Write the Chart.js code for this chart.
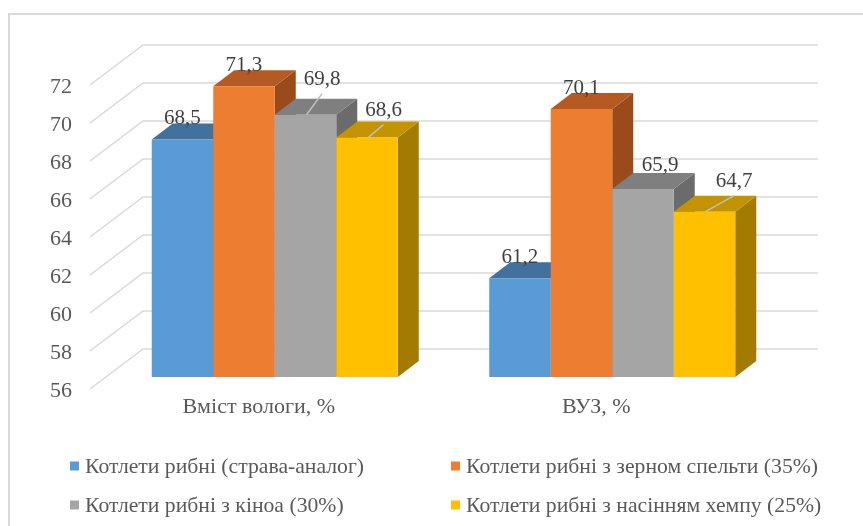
<!DOCTYPE html>
<html lang="uk">
<head>
<meta charset="utf-8" />
<title>Котлети рибні</title>
<script src="https://cdn.jsdelivr.net/npm/chart.js@4.4.1/dist/chart.umd.min.js"></script>
<style>
  html, body { margin: 0; padding: 0; background: #fff; }
  #wrap { width: 863px; height: 526px; }
</style>
</head>
<body>
<div id="wrap"><canvas id="chart" width="863" height="526"></canvas></div>
<script>
// --- data ---
const categories = ['Вміст вологи, %', 'ВУЗ, %'];
const seriesNames = [
  'Котлети рибні (страва-аналог)',
  'Котлети рибні з зерном спельти (35%)',
  'Котлети рибні з кіноа (30%)',
  'Котлети рибні з насінням хемпу (25%)'
];
const analogValues = [68.5, 61.2];
const speltValues = [71.3, 70.1];
const quinoaValues = [69.8, 65.9];
const hempValues = [68.6, 64.7];
const yTicks = [56, 58, 60, 62, 64, 66, 68, 70, 72];

// colours: front, top, side
const palette = [
  { front: '#5b9bd5', top: '#41719c', side: '#3a6690' },
  { front: '#ed7d31', top: '#b55a22', side: '#9a4b1b' },
  { front: '#a5a5a5', top: '#7f7f7f', side: '#6b6b6b' },
  { front: '#ffc000', top: '#c39300', side: '#a37b00' }
];

// 3d geometry (px): floor front edge, back wall, bar depth
const FRONT = { x: -16, y: 12 };
const BACK = { x: 37, y: -28 };
const DEPTH = { x: 21, y: -16 };
const FONT = '22px "Liberation Serif", "Times New Roman", serif';
const LABEL_FONT = '21px "Liberation Serif", "Times New Roman", serif';
const LEGEND_FONT = '21.7px "Liberation Serif", "Times New Roman", serif';

// data label nudges and leader lines, per series per category
const labelNudge = [
  [[0, -21], [0, -21]],
  [[0, -21], [0, -21]],
  [[16.5, -35], [17, -23]],
  [[16.5, -27], [29.5, -30]]
];
const leaders = [[2, 0], [3, 0], [3, 1]];

const plot3d = {
  id: 'plot3d',
  beforeDraw(chart) {
    const ctx = chart.ctx;
    ctx.save();
    ctx.fillStyle = '#fff';
    ctx.fillRect(0, 0, chart.width, chart.height);
    ctx.strokeStyle = '#d9d9d9';
    ctx.lineWidth = 2;
    ctx.strokeRect(9, 14, chart.width + 20, chart.height + 20);
    ctx.restore();
  },
  beforeDatasetsDraw(chart) {
    const ctx = chart.ctx;
    const a = chart.chartArea;
    const y = chart.scales.y;
    const base = y.getPixelForValue(y.min);
    ctx.save();
    // walls
    ctx.strokeStyle = '#d9d9d9';
    ctx.lineWidth = 1.5;
    yTicks.forEach(v => {
      const py = y.getPixelForValue(v);
      ctx.beginPath();
      ctx.moveTo(a.left + FRONT.x, py + FRONT.y);
      ctx.lineTo(a.left + BACK.x, py + BACK.y);
      ctx.lineTo(a.right + BACK.x, py + BACK.y);
      ctx.stroke();
    });
    // sides and tops, left to right
    categories.forEach((c, i) => {
      chart.data.datasets.forEach((ds, d) => {
        const bar = chart.getDatasetMeta(d).data[i];
        const p = bar.getProps(['x', 'y', 'width'], true);
        const l = p.x - p.width / 2, r = p.x + p.width / 2;
        ctx.fillStyle = palette[d].side;
        ctx.beginPath();
        ctx.moveTo(r, p.y);
        ctx.lineTo(r + DEPTH.x, p.y + DEPTH.y);
        ctx.lineTo(r + DEPTH.x, base + DEPTH.y);
        ctx.lineTo(r, base);
        ctx.closePath();
        ctx.fill();
        ctx.fillStyle = palette[d].top;
        ctx.beginPath();
        ctx.moveTo(l, p.y);
        ctx.lineTo(l + DEPTH.x, p.y + DEPTH.y);
        ctx.lineTo(r + DEPTH.x, p.y + DEPTH.y);
        ctx.lineTo(r, p.y);
        ctx.closePath();
        ctx.fill();
      });
    });
    ctx.restore();
  },
  afterDatasetsDraw(chart) {
    const ctx = chart.ctx;
    const a = chart.chartArea;
    const x = chart.scales.x, y = chart.scales.y;
    ctx.save();

    // leader lines
    ctx.strokeStyle = '#bfbfbf';
    ctx.lineWidth = 1.5;
    leaders.forEach(([d, i]) => {
      const p = chart.getDatasetMeta(d).data[i];
      const [nx, ny] = labelNudge[d][i];
      ctx.beginPath();
      ctx.moveTo(p.x + 1, p.y);
      ctx.lineTo(p.x + nx, p.y + ny + 14);
      ctx.stroke();
    });

    // data labels
    ctx.font = LABEL_FONT;
    ctx.fillStyle = '#404040';
    ctx.textAlign = 'center';
    ctx.textBaseline = 'middle';
    chart.data.datasets.forEach((ds, d) => {
      chart.getDatasetMeta(d).data.forEach((p, i) => {
        const [nx, ny] = labelNudge[d][i];
        ctx.fillText(ds.data[i].toFixed(1).replace('.', ','), p.x + nx, p.y + ny);
      });
    });

    // value axis labels on the floor front edge
    ctx.font = FONT;
    ctx.fillStyle = '#595959';
    ctx.textAlign = 'right';
    yTicks.forEach(v => {
      ctx.fillText(String(v), a.left - 34, y.getPixelForValue(v) + FRONT.y + 2);
    });

    // category labels
    ctx.textAlign = 'center';
    categories.forEach((c, i) => {
      ctx.fillText(c, x.getPixelForValue(i) + FRONT.x, 407);
    });

    // legend, two columns
    ctx.font = LEGEND_FONT;
    ctx.textAlign = 'left';
    const cols = [70, 451], rows = [466, 505];
    chart.data.datasets.forEach((ds, d) => {
      const lx = cols[d % 2], ly = rows[Math.floor(d / 2)];
      ctx.fillStyle = palette[d].front;
      ctx.fillRect(lx, ly - 4.5, 9, 9);
      ctx.fillStyle = '#595959';
      ctx.fillText(ds.label, lx + 15, ly + 1);
    });
    ctx.restore();
  }
};

const seriesValues = [analogValues, speltValues, quinoaValues, hempValues];

new Chart(document.getElementById('chart'), {
  type: 'bar',
  data: {
    labels: categories,
    datasets: seriesValues.map((vals, d) => ({
      label: seriesNames[d],
      data: vals,
      backgroundColor: palette[d].front,
      borderWidth: 0,
      categoryPercentage: 0.729,
      barPercentage: 1.0
    }))
  },
  options: {
    responsive: false,
    animation: false,
    devicePixelRatio: 1,
    layout: { padding: { left: 106, right: 82, top: 73, bottom: 149 } },
    plugins: { legend: { display: false }, tooltip: { enabled: false } },
    scales: {
      x: { display: false, grid: { display: false } },
      y: { display: false, min: 56, max: 72, ticks: { stepSize: 2 } }
    }
  },
  plugins: [plot3d]
});
</script>
</body>
</html>
